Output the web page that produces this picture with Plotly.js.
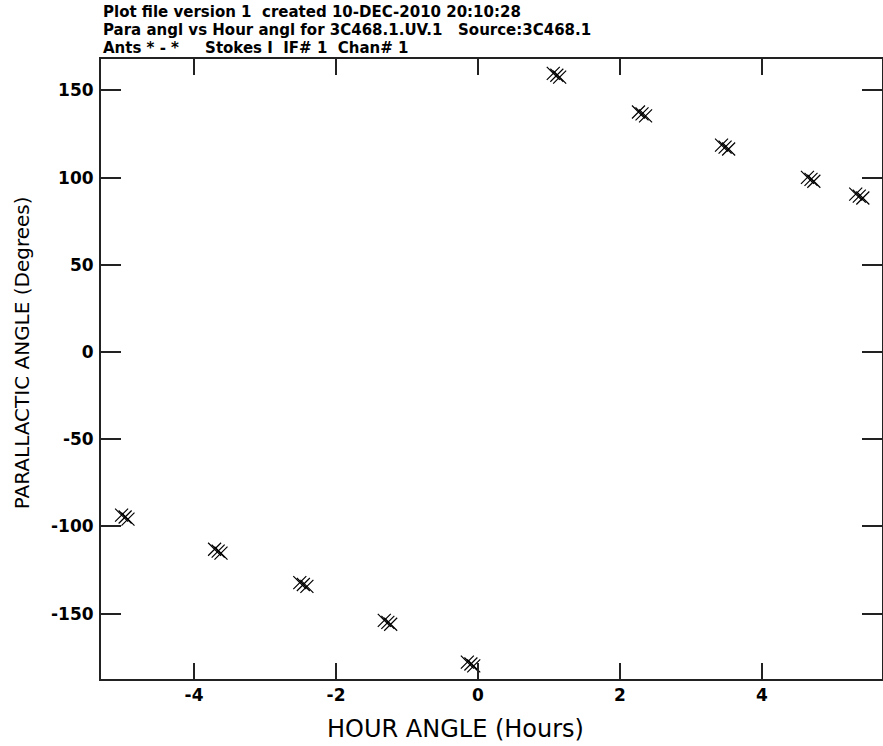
<!DOCTYPE html>
<html>
<head>
<meta charset="utf-8">
<script src="https://cdn.plot.ly/plotly-3.0.1.min.js"></script>
<style>
  html, body { margin: 0; padding: 0; background: #fff; }
  #plot { width: 883px; height: 746px; }
</style>
</head>
<body>
<div id="plot"></div>
<script>
// Parallactic angle vs hour angle for 3C468.1, several baselines per scan
const hourAngle = [
  -5.02, -4.97, -4.93,
  -3.71, -3.66, -3.62,
  -2.51, -2.46, -2.41,
  -1.32, -1.27, -1.23,
  -0.15, -0.10, -0.06,
   1.06,  1.11,  1.15,
   2.26,  2.31,  2.36,
   3.43,  3.48,  3.53,
   4.64,  4.69,  4.73,
   5.32,  5.37,  5.42
];
const paraAngle = [
   -93.5,  -94.6,  -95.8,
  -113.1, -114.2, -115.3,
  -132.2, -133.3, -134.4,
  -153.9, -155.0, -156.1,
  -177.8, -178.9, -180.0,
   159.8,  158.7,  157.6,
   137.6,  136.5,  135.4,
   118.6,  117.5,  116.4,
   100.1,   99.0,   97.9,
    90.5,   89.4,   88.3
];
const xTicks = [-4, -2, 0, 2, 4];
const yTicks = [-150, -100, -50, 0, 50, 100, 150];
const headerLines = [
  'Plot file version 1  created 10-DEC-2010 20:10:28',
  'Para angl vs Hour angl for 3C468.1.UV.1   Source:3C468.1',
  'Ants * - *     Stokes I  IF# 1  Chan# 1'
];
const xTitle = 'HOUR ANGLE (Hours)';
const yTitle = 'PARALLACTIC ANGLE (Degrees)';

const trace = {
  type: 'scatter',
  mode: 'markers',
  x: hourAngle,
  y: paraAngle,
  marker: {
    symbol: 'x-thin',
    size: 13,
    color: '#000',
    line: { width: 1.2, color: '#000' }
  },
  hoverinfo: 'x+y',
  showlegend: false
};

// header block above the frame
const headerY = [1.0758, 1.0468, 1.0177];
const annotations = headerLines.map((t, i) => ({
  text: t,
  xref: 'paper', yref: 'paper',
  x: 0, y: headerY[i],
  xanchor: 'left', yanchor: 'middle',
  showarrow: false,
  font: { family: 'DejaVu Sans', size: 15, weight: 'bold', color: '#000' }
}));

// axis captions
annotations.push({
  text: xTitle,
  xref: 'paper', yref: 'paper',
  x: 0.4545, y: -0.081,
  xanchor: 'center', yanchor: 'middle',
  showarrow: false,
  font: { family: 'DejaVu Sans', size: 24, color: '#000' }
});
annotations.push({
  text: yTitle,
  xref: 'paper', yref: 'paper',
  x: -0.1012, y: 0.527,
  xanchor: 'center', yanchor: 'middle',
  textangle: -90,
  showarrow: false,
  font: { family: 'DejaVu Sans', size: 20, color: '#000' }
});

const axisCommon = {
  showline: true,
  linecolor: '#222',
  linewidth: 2,
  mirror: 'ticks',
  ticks: 'inside',
  tickwidth: 2,
  tickcolor: '#222',
  showgrid: false,
  zeroline: false,
  tickfont: { family: 'DejaVu Sans', size: 17, weight: 'bold', color: '#000' }
};

const layout = {
  width: 883,
  height: 746,
  margin: { l: 101, r: 1, t: 59, b: 67 },
  paper_bgcolor: '#fff',
  plot_bgcolor: '#fff',
  xaxis: Object.assign({}, axisCommon, {
    range: [-5.31, 5.69],
    tickvals: xTicks,
    ticktext: xTicks.map(String),
    ticklen: 16
  }),
  yaxis: Object.assign({}, axisCommon, {
    range: [-187.5, 168],
    tickvals: yTicks,
    ticktext: yTicks.map(String),
    ticklen: 20,
    ticklabelstandoff: 2
  }),
  annotations: annotations
};

Plotly.newPlot('plot', [trace], layout, { displayModeBar: false, staticPlot: true });
</script>
</body>
</html>
